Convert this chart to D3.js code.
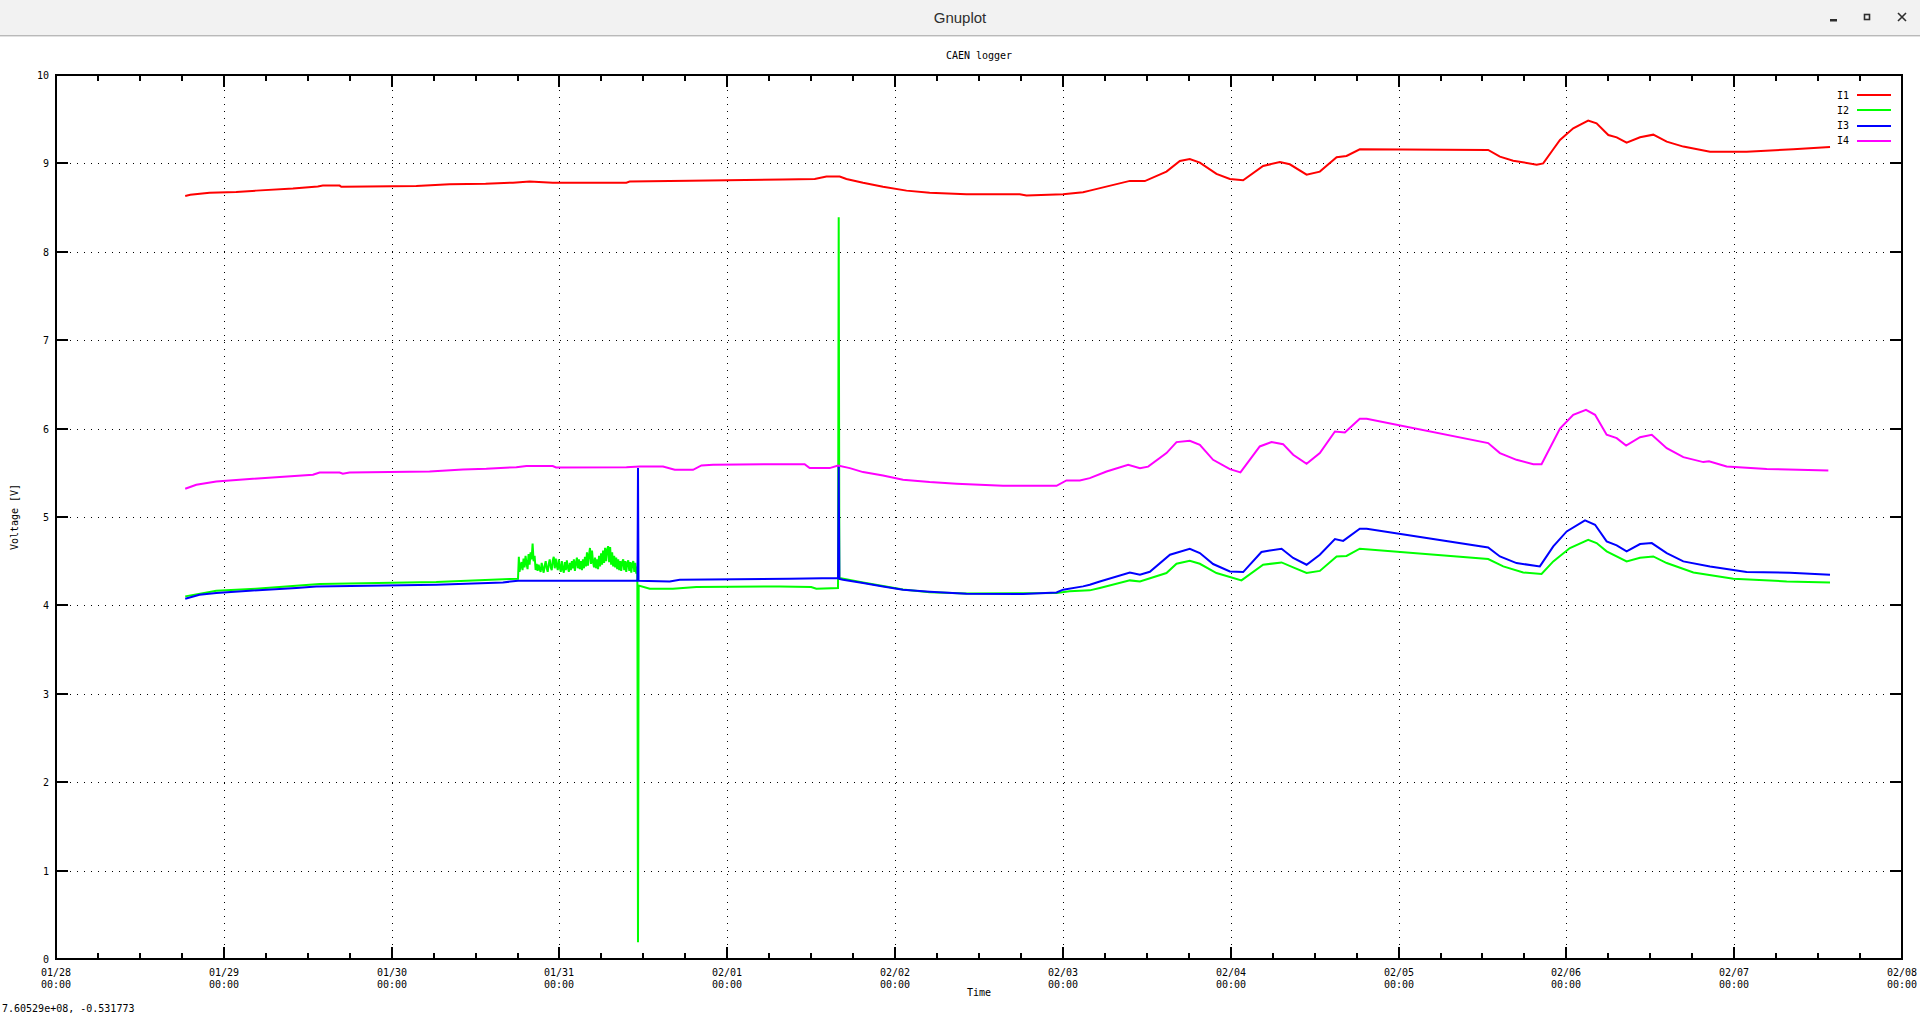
<!DOCTYPE html>
<html><head><meta charset="utf-8">
<script src="https://cdn.jsdelivr.net/npm/d3@7"></script>
<style>
html,body{margin:0;padding:0;background:#fff;overflow:hidden}
svg{display:block}
.mono{font-family:"DejaVu Sans Mono","Liberation Mono",monospace;font-size:10px;fill:#000}
</style></head><body>
<script>
// ---------- texts ----------
const windowTitle = "Gnuplot";
const chartTitle = "CAEN logger";
const xLabel = "Time";
const yLabel = "Voltage [V]";
const statusText = "7.60529e+08, -0.531773";
const seriesNames = ["I1", "I2", "I3", "I4"];
const seriesColors = ["#ff0000", "#00ff00", "#0000ff", "#ff00ff"];
const yTicks = [0, 1, 2, 3, 4, 5, 6, 7, 8, 9, 10];
const dayLabels = ["01/28","01/29","01/30","01/31","02/01","02/02","02/03","02/04","02/05","02/06","02/07","02/08"];
const timeLabel = "00:00";

// ---------- data: [days since 2024-01-28 00:00, volts] ----------
const I1 = [[0.770,8.632],[0.800,8.645],[0.915,8.669],[1.074,8.677],[1.193,8.692],[1.412,8.715],[1.560,8.740],[1.590,8.749],[1.690,8.749],[1.700,8.735],[1.709,8.737],[2.147,8.745],[2.345,8.764],[2.560,8.770],[2.723,8.782],[2.822,8.794],[2.960,8.782],[3.399,8.782],[3.418,8.794],[3.776,8.805],[4.332,8.817],[4.521,8.824],[4.591,8.851],[4.670,8.851],[4.710,8.824],[4.809,8.782],[4.928,8.737],[5.068,8.692],[5.206,8.669],[5.425,8.651],[5.743,8.651],[5.783,8.636],[6.001,8.651],[6.120,8.674],[6.160,8.692],[6.399,8.802],[6.488,8.800],[6.617,8.907],[6.697,9.027],[6.756,9.050],[6.816,9.009],[6.915,8.881],[6.995,8.824],[7.074,8.809],[7.193,8.971],[7.293,9.016],[7.352,8.990],[7.452,8.873],[7.531,8.907],[7.631,9.069],[7.690,9.084],[7.769,9.160],[8.534,9.152],[8.604,9.077],[8.683,9.031],[8.823,8.986],[8.862,9.000],[8.922,9.160],[8.962,9.265],[9.041,9.397],[9.130,9.484],[9.180,9.454],[9.250,9.321],[9.300,9.295],[9.359,9.234],[9.439,9.295],[9.518,9.325],[9.598,9.246],[9.697,9.190],[9.856,9.133],[10.074,9.133],[10.352,9.160],[10.571,9.186]];

const I2 = [[0.770,4.102],[0.955,4.166],[1.190,4.189],[1.571,4.242],[2.266,4.264],[2.703,4.298],[2.753,4.300],
[2.758,4.55],[2.762,4.38],[2.768,4.44],[2.774,4.49],[2.780,4.40],[2.786,4.53],[2.792,4.43],[2.798,4.56],[2.804,4.47],[2.810,4.41],[2.816,4.58],[2.822,4.46],[2.828,4.60],[2.834,4.52],[2.840,4.70],[2.846,4.50],[2.852,4.56],[2.858,4.40],[2.864,4.47],[2.870,4.39],[2.876,4.46],[2.882,4.41],[2.888,4.38],[2.894,4.48],[2.900,4.42],[2.906,4.37],[2.912,4.45],[2.918,4.50],[2.924,4.42],[2.930,4.38],[2.936,4.47],[2.942,4.52],[2.948,4.43],[2.954,4.40],[2.960,4.51],[2.966,4.55],[2.972,4.42],[2.978,4.53],[2.984,4.45],[2.990,4.40],[2.996,4.52],[3.002,4.43],[3.008,4.38],[3.014,4.50],[3.020,4.41],[3.026,4.37],[3.032,4.49],[3.038,4.40],[3.044,4.51],[3.050,4.43],[3.056,4.38],[3.062,4.48],[3.068,4.40],[3.074,4.50],[3.080,4.42],[3.086,4.52],[3.092,4.39],[3.098,4.48],[3.104,4.54],[3.110,4.42],[3.116,4.52],[3.122,4.41],[3.128,4.50],[3.134,4.40],[3.140,4.52],[3.146,4.42],[3.152,4.55],[3.158,4.44],[3.164,4.60],[3.170,4.45],[3.176,4.57],[3.182,4.65],[3.188,4.47],[3.194,4.62],[3.200,4.49],[3.206,4.43],[3.212,4.54],[3.218,4.42],[3.224,4.52],[3.230,4.41],[3.236,4.56],[3.242,4.44],[3.248,4.59],[3.254,4.46],[3.260,4.62],[3.266,4.48],[3.272,4.65],[3.278,4.50],[3.284,4.63],[3.290,4.67],[3.296,4.49],[3.302,4.66],[3.308,4.46],[3.314,4.60],[3.320,4.44],[3.326,4.56],[3.332,4.43],[3.338,4.54],[3.344,4.41],[3.350,4.52],[3.356,4.40],[3.362,4.50],[3.368,4.39],[3.374,4.49],[3.380,4.52],[3.386,4.40],[3.392,4.50],[3.398,4.38],[3.404,4.48],[3.410,4.51],[3.416,4.39],[3.422,4.49],[3.428,4.37],[3.434,4.47],[3.440,4.50],[3.446,4.38],[3.452,4.48],[3.458,4.36],[3.464,4.44],
[3.468,0.19],[3.472,4.225],[3.538,4.189],[3.676,4.189],[3.816,4.208],[4.313,4.215],[4.500,4.208],[4.531,4.189],[4.660,4.197],[4.664,8.391],[4.668,4.310],[4.809,4.260],[4.928,4.220],[5.047,4.180],[5.206,4.150],[5.425,4.135],[5.962,4.140],[6.040,4.159],[6.160,4.170],[6.220,4.197],[6.399,4.283],[6.459,4.270],[6.617,4.366],[6.677,4.471],[6.756,4.505],[6.816,4.471],[6.915,4.366],[7.064,4.283],[7.193,4.460],[7.303,4.486],[7.372,4.430],[7.452,4.366],[7.531,4.390],[7.631,4.554],[7.690,4.560],[7.769,4.641],[8.534,4.525],[8.624,4.441],[8.743,4.373],[8.852,4.355],[8.922,4.498],[9.021,4.649],[9.130,4.743],[9.180,4.705],[9.240,4.611],[9.359,4.498],[9.439,4.540],[9.518,4.554],[9.598,4.479],[9.757,4.373],[9.995,4.302],[10.313,4.271],[10.571,4.260]];

const I3 = [[0.770,4.076],[0.855,4.121],[0.955,4.140],[1.153,4.166],[1.432,4.197],[1.551,4.215],[2.266,4.234],[2.663,4.260],[2.753,4.279],[3.465,4.279],[3.468,5.553],[3.471,4.279],[3.657,4.271],[3.717,4.290],[4.372,4.302],[4.660,4.310],[4.664,5.579],[4.668,4.300],[4.690,4.290],[4.809,4.253],[4.928,4.215],[5.047,4.178],[5.206,4.155],[5.425,4.132],[5.763,4.128],[5.962,4.147],[6.001,4.178],[6.120,4.215],[6.160,4.234],[6.220,4.271],[6.399,4.373],[6.459,4.347],[6.518,4.380],[6.638,4.573],[6.756,4.641],[6.816,4.592],[6.895,4.468],[6.995,4.384],[7.074,4.377],[7.183,4.604],[7.233,4.620],[7.303,4.641],[7.372,4.536],[7.452,4.460],[7.531,4.573],[7.621,4.750],[7.670,4.730],[7.769,4.867],[7.810,4.867],[8.534,4.656],[8.604,4.554],[8.703,4.479],[8.842,4.441],[8.922,4.667],[9.002,4.837],[9.111,4.961],[9.171,4.912],[9.240,4.724],[9.300,4.679],[9.359,4.611],[9.439,4.694],[9.509,4.705],[9.598,4.592],[9.697,4.498],[9.856,4.441],[10.074,4.377],[10.332,4.370],[10.571,4.347]];

const I4 = [[0.770,5.319],[0.836,5.365],[0.955,5.402],[1.173,5.432],[1.531,5.478],[1.571,5.504],[1.690,5.504],[1.709,5.490],[1.749,5.504],[2.226,5.515],[2.425,5.538],[2.564,5.545],[2.743,5.564],[2.803,5.576],[2.960,5.576],[2.980,5.560],[3.399,5.564],[3.478,5.572],[3.617,5.572],[3.687,5.534],[3.796,5.534],[3.846,5.583],[3.915,5.591],[4.273,5.598],[4.461,5.598],[4.491,5.553],[4.610,5.553],[4.660,5.583],[4.730,5.553],[4.809,5.508],[4.928,5.470],[5.047,5.421],[5.206,5.395],[5.366,5.376],[5.643,5.353],[5.962,5.353],[6.021,5.413],[6.101,5.413],[6.160,5.440],[6.260,5.515],[6.389,5.591],[6.459,5.553],[6.508,5.570],[6.617,5.723],[6.677,5.847],[6.756,5.862],[6.816,5.817],[6.895,5.647],[6.995,5.542],[7.058,5.504],[7.173,5.798],[7.243,5.847],[7.312,5.824],[7.372,5.704],[7.452,5.602],[7.531,5.723],[7.621,5.967],[7.680,5.956],[7.769,6.111],[7.810,6.111],[8.534,5.836],[8.604,5.723],[8.703,5.647],[8.803,5.598],[8.852,5.598],[8.962,6.000],[9.041,6.156],[9.117,6.213],[9.171,6.156],[9.240,5.930],[9.300,5.892],[9.356,5.809],[9.439,5.903],[9.509,5.930],[9.598,5.779],[9.697,5.677],[9.816,5.621],[9.850,5.630],[9.955,5.572],[10.194,5.542],[10.561,5.527]];

const seriesData = [I1, I2, I3, I4];

// ---------- layout ----------
const W = 1920, H = 1014;
const P = {left: 56, right: 1902, top: 75, bottom: 959};
const t0 = new Date(2024, 0, 28);
const toDate = d => new Date(t0.getTime() + d * 864e5);

const x = d3.scaleTime().domain([toDate(0), toDate(11)]).range([P.left, P.right]);
const y = d3.scaleLinear().domain([0, 10]).range([P.bottom, P.top]);
const xr = x.copy().interpolate(d3.interpolateRound);
const yr = y.copy().interpolate(d3.interpolateRound);

const majorX = d3.range(dayLabels.length).map(i => toDate(i));
const minorX = d3.timeHour.every(6).range(toDate(0), toDate(11)).filter(t => t.getHours() !== 0);

const svg = d3.select("body").append("svg").attr("width", W).attr("height", H);
svg.append("rect").attr("width", W).attr("height", H).attr("fill", "#fff");

// window title bar
svg.append("rect").attr("x", 0).attr("y", 0).attr("width", W).attr("height", 35).attr("fill", "#f2f2f2");
svg.append("line").attr("x1", 0).attr("x2", W).attr("y1", 35.5).attr("y2", 35.5).attr("stroke", "#b9b9b9");
svg.append("line").attr("x1", 0).attr("x2", W).attr("y1", 36.5).attr("y2", 36.5).attr("stroke", "#e2e2e2");
svg.append("text").text(windowTitle).attr("x", 960).attr("y", 22.5).attr("text-anchor", "middle")
  .style("font-family", "'Liberation Sans','DejaVu Sans',sans-serif").style("font-size", "15px").attr("fill", "#2e2e2e");
svg.append("rect").attr("x", 1830).attr("y", 19).attr("width", 7).attr("height", 2.5).attr("fill", "#2e2e2e");
svg.append("rect").attr("x", 1864.5).attr("y", 14.5).attr("width", 5).attr("height", 5).attr("fill", "none").attr("stroke", "#2e2e2e").attr("stroke-width", 1.6);
svg.append("path").attr("d", "M1898,13L1906,21M1906,13L1898,21").attr("stroke", "#2e2e2e").attr("stroke-width", 1.6);

const plot = svg.append("g");

// grid (dotted)
const gridStyle = s => s.selectAll(".tick line").attr("stroke", "#000").attr("stroke-width", 1).attr("stroke-dasharray", "1,6");
plot.append("g").attr("transform", `translate(0,${P.bottom})`)
  .call(d3.axisBottom(xr).tickValues(majorX.slice(1, -1)).tickSize(-(P.bottom - P.top)).tickFormat("").offset(0.5))
  .call(g => g.select(".domain").remove()).call(gridStyle);
plot.append("g").attr("transform", `translate(${P.left},0)`)
  .call(d3.axisLeft(yr).tickValues(yTicks.slice(1, -1)).tickSize(-(P.right - P.left)).tickFormat("").offset(0.5))
  .call(g => g.select(".domain").remove()).call(gridStyle);

// data lines
const line = d3.line().x(d => x(toDate(d[0]))).y(d => y(d[1]));
seriesData.forEach((s, i) => {
  plot.append("path").datum(s).attr("d", line).attr("fill", "none")
    .attr("stroke", seriesColors[i]).attr("stroke-width", 2).attr("stroke-linejoin", "miter").attr("stroke-linecap", "butt");
});

// ticks (inward, mirrored)
const tickStyle = s => { s.select(".domain").remove(); s.selectAll(".tick line").attr("stroke", "#000").attr("stroke-width", 2); };
plot.append("g").attr("class", "xmaj").attr("transform", `translate(0,${P.bottom})`)
  .call(d3.axisBottom(xr).tickValues(majorX).tickSize(-12).tickPadding(0).offset(0)
    .tickFormat((d, i) => dayLabels[i]))
  .call(tickStyle);
plot.append("g").attr("transform", `translate(0,${P.bottom})`)
  .call(d3.axisBottom(xr).tickValues(minorX).tickSize(-6).tickFormat("").offset(0)).call(tickStyle);
plot.append("g").attr("transform", `translate(0,${P.top})`)
  .call(d3.axisTop(xr).tickValues(majorX).tickSize(-12).tickFormat("").offset(0)).call(tickStyle);
plot.append("g").attr("transform", `translate(0,${P.top})`)
  .call(d3.axisTop(xr).tickValues(minorX).tickSize(-6).tickFormat("").offset(0)).call(tickStyle);
plot.append("g").attr("class", "ymaj").attr("transform", `translate(${P.left},0)`)
  .call(d3.axisLeft(yr).tickValues(yTicks).tickSize(-12).tickPadding(0).offset(0).tickFormat(d3.format("d")))
  .call(tickStyle);
plot.append("g").attr("transform", `translate(${P.right},0)`)
  .call(d3.axisRight(yr).tickValues(yTicks).tickSize(-12).tickFormat("").offset(0)).call(tickStyle);

// tick label styling
plot.select(".xmaj").selectAll(".tick text").each(function(d, i) {
  const t = d3.select(this);
  const lab = t.text();
  t.text(null).attr("class", "mono").attr("y", 0).attr("dy", null).attr("fill", "#000")
    .style("font-family", null).style("font-size", null);
  t.append("tspan").attr("x", 0).attr("y", 17).text(lab);
  t.append("tspan").attr("x", 0).attr("y", 29).text(timeLabel);
});
plot.select(".xmaj").attr("font-family", null).attr("font-size", null);
plot.select(".ymaj").attr("font-family", null).attr("font-size", null)
  .selectAll(".tick text").attr("class", "mono").attr("x", -7).attr("dy", "0.35em").attr("fill", "#000");

// border
plot.append("rect").attr("x", P.left).attr("y", P.top).attr("width", P.right - P.left).attr("height", P.bottom - P.top)
  .attr("fill", "none").attr("stroke", "#000").attr("stroke-width", 2);

// titles / labels
svg.append("text").attr("class", "mono").attr("x", (P.left + P.right) / 2).attr("y", 59).attr("text-anchor", "middle").text(chartTitle);
svg.append("text").attr("class", "mono").attr("x", (P.left + P.right) / 2).attr("y", 996).attr("text-anchor", "middle").text(xLabel);
svg.append("text").attr("class", "mono").attr("transform", `translate(18,${(P.top + P.bottom) / 2}) rotate(-90)`)
  .attr("text-anchor", "middle").text(yLabel);
svg.append("text").attr("class", "mono").attr("x", 2).attr("y", 1012).text(statusText);

// legend
const leg = svg.append("g");
seriesNames.forEach((n, i) => {
  const ly = 95 + i * 15.3;
  leg.append("text").attr("class", "mono").attr("x", 1849).attr("y", ly).attr("dy", "0.35em").attr("text-anchor", "end").text(n);
  leg.append("line").attr("x1", 1857).attr("x2", 1891).attr("y1", Math.round(ly)).attr("y2", Math.round(ly))
    .attr("stroke", seriesColors[i]).attr("stroke-width", 2);
});
</script>
</body></html>
